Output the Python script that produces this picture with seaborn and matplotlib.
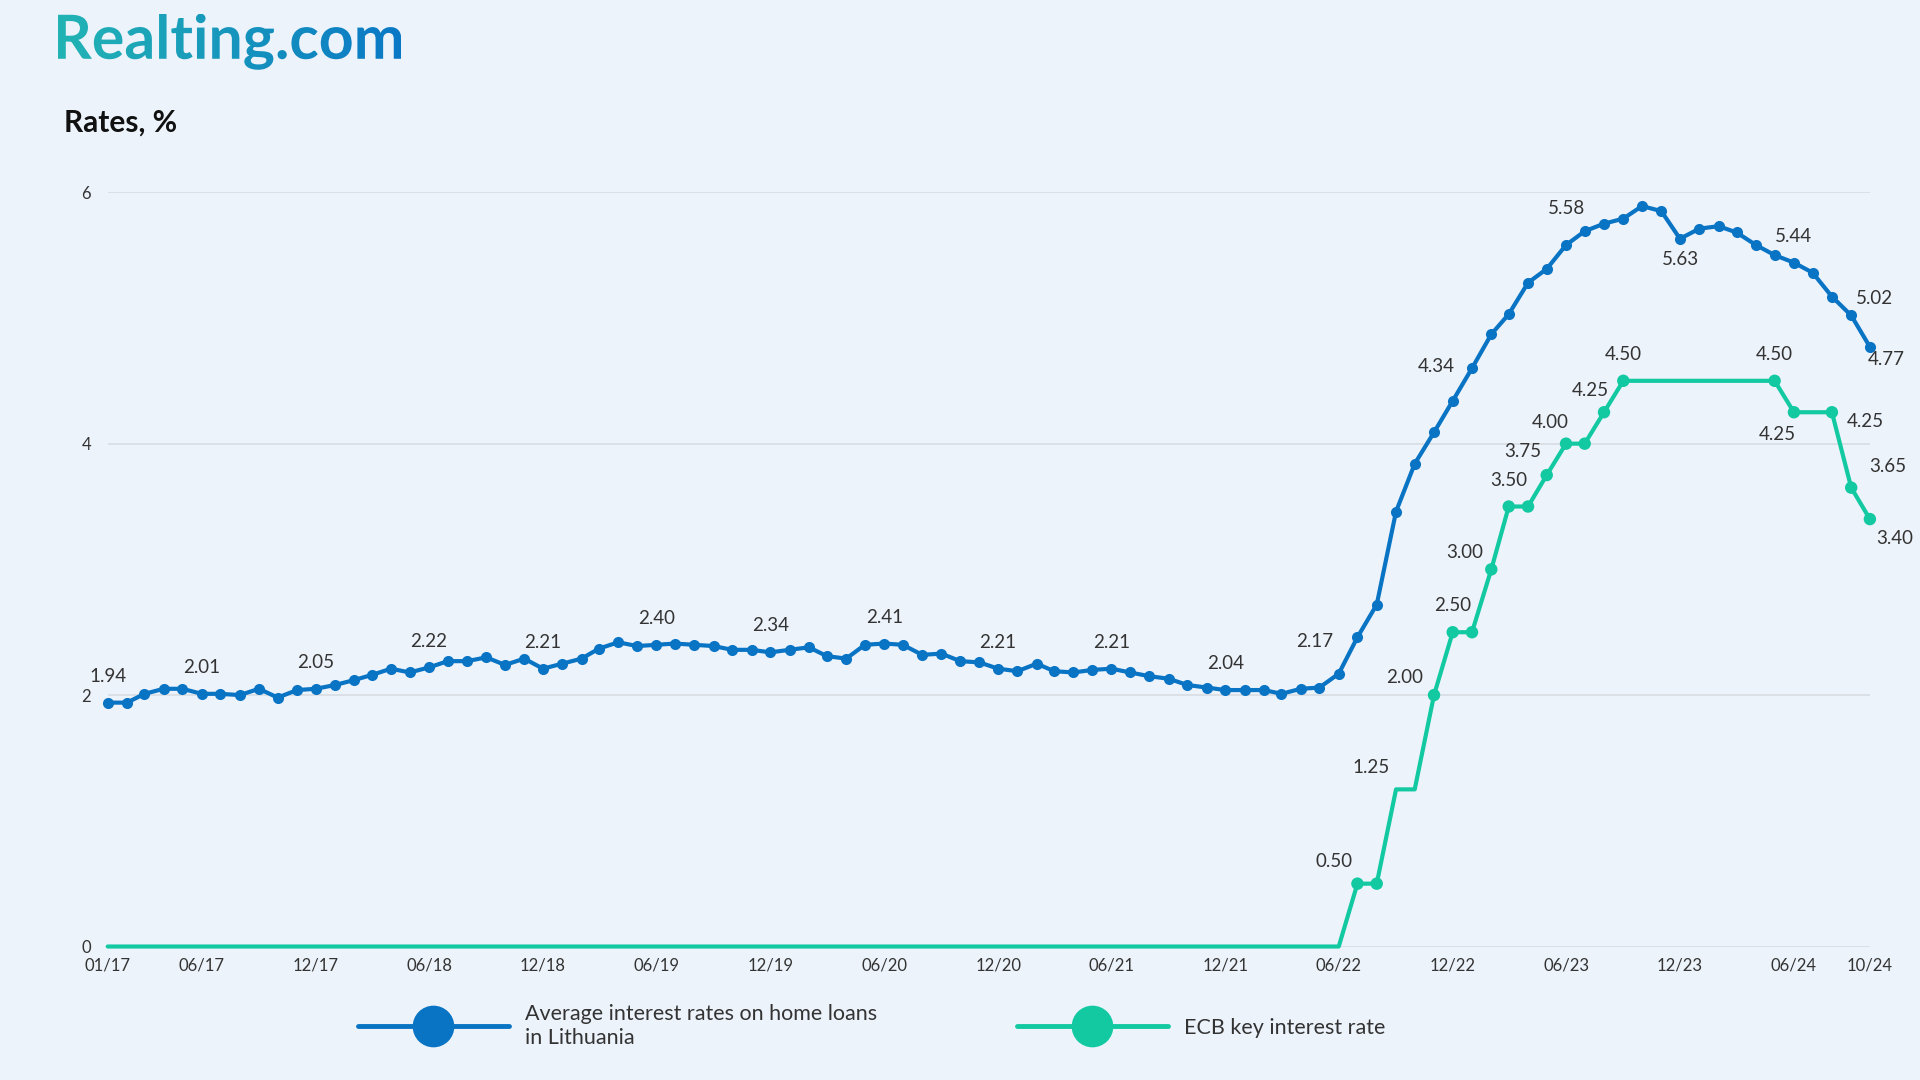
import numpy as np
import pandas as pd
import matplotlib
matplotlib.use("Agg")
import matplotlib.pyplot as plt
import matplotlib.colors as mcolors
from matplotlib.lines import Line2D
from matplotlib.textpath import TextPath
from matplotlib.font_manager import FontProperties
from matplotlib.patches import PathPatch
import seaborn as sns

# monthly data, 01/17 .. 10/24
start_month = "2017-01-01"
end_month = "2024-10-01"

home_loan_rates = [
    1.94, 1.94, 2.01, 2.05, 2.05, 2.01, 2.01, 2.00, 2.05, 1.98, 2.04, 2.05,  # 2017
    2.08, 2.12, 2.16, 2.21, 2.18, 2.22, 2.27, 2.27, 2.30, 2.24, 2.29, 2.21,  # 2018
    2.25, 2.29, 2.37, 2.42, 2.39, 2.40, 2.41, 2.40, 2.39, 2.36, 2.36, 2.34,  # 2019
    2.36, 2.38, 2.31, 2.29, 2.40, 2.41, 2.40, 2.32, 2.33, 2.27, 2.26, 2.21,  # 2020
    2.19, 2.25, 2.19, 2.18, 2.20, 2.21, 2.18, 2.15, 2.13, 2.08, 2.06, 2.04,  # 2021
    2.04, 2.04, 2.01, 2.05, 2.06, 2.17, 2.46, 2.72, 3.46, 3.84, 4.09, 4.34,  # 2022
    4.60, 4.87, 5.03, 5.28, 5.39, 5.58, 5.69, 5.75, 5.79, 5.89, 5.85, 5.63,  # 2023
    5.71, 5.73, 5.68, 5.58, 5.50, 5.44, 5.36, 5.17, 5.02, 4.77,              # 2024
]

ecb_rates = [
    0.00, 0.00, 0.00, 0.00, 0.00, 0.00, 0.00, 0.00, 0.00, 0.00, 0.00, 0.00,  # 2017
    0.00, 0.00, 0.00, 0.00, 0.00, 0.00, 0.00, 0.00, 0.00, 0.00, 0.00, 0.00,  # 2018
    0.00, 0.00, 0.00, 0.00, 0.00, 0.00, 0.00, 0.00, 0.00, 0.00, 0.00, 0.00,  # 2019
    0.00, 0.00, 0.00, 0.00, 0.00, 0.00, 0.00, 0.00, 0.00, 0.00, 0.00, 0.00,  # 2020
    0.00, 0.00, 0.00, 0.00, 0.00, 0.00, 0.00, 0.00, 0.00, 0.00, 0.00, 0.00,  # 2021
    0.00, 0.00, 0.00, 0.00, 0.00, 0.00, 0.50, 0.50, 1.25, 1.25, 2.00, 2.50,  # 2022
    2.50, 3.00, 3.50, 3.50, 3.75, 4.00, 4.00, 4.25, 4.50, 4.50, 4.50, 4.50,  # 2023
    4.50, 4.50, 4.50, 4.50, 4.50, 4.25, 4.25, 4.25, 3.65, 3.40,              # 2024
]

tick_labels = ["01/17", "06/17", "12/17", "06/18", "12/18", "06/19", "12/19", "06/20",
               "12/20", "06/21", "12/21", "06/22", "12/22", "06/23", "12/23", "06/24", "10/24"]

loan_labelled = ["01/17", "06/17", "12/17", "06/18", "12/18", "06/19", "12/19", "06/20",
                 "12/20", "06/21", "12/21", "06/22", "12/22", "06/23", "12/23", "06/24",
                 "09/24", "10/24"]
ecb_labelled = ["07/22", "09/22", "11/22", "12/22", "02/23", "03/23", "05/23", "06/23",
                "08/23", "09/23", "05/24", "06/24", "08/24", "09/24", "10/24"]
ecb_marked = ["07/22", "08/22", "11/22", "12/22", "01/23", "02/23", "03/23", "04/23",
              "05/23", "06/23", "07/23", "08/23", "09/23", "05/24", "06/24", "08/24",
              "09/24", "10/24"]

loan_name = "Average interest rates on home loans\nin Lithuania"
ecb_name = "ECB key interest rate"

# label offsets in points (default: centred above the point)
loan_offsets = {"06/22": (-17, 23), "12/22": (-12, 25), "06/23": (0, 26), "12/23": (0, -15),
                "09/24": (17, 12), "10/24": (12, -9)}
ecb_offsets = {"07/22": (-17, 16), "09/22": (-18, 16), "11/22": (-21, 13), "02/23": (-19, 12),
               "05/23": (-17, 17), "06/23": (-11, 15), "08/23": (-10, 16), "06/24": (-12, -16),
               "08/24": (24, -7), "09/24": (26, 15), "10/24": (18, -14)}

BG = "#edf3fb"
BLUE = "#0a74c4"
GREEN = "#12c9a2"
GRID = "#d8dce2"
TXT = "#333333"

df = pd.DataFrame({
    "month": pd.date_range(start_month, end_month, freq="MS"),
    "loan": home_loan_rates,
    "ecb": ecb_rates,
})
df["key"] = df["month"].dt.strftime("%m/%y")

sns.set_theme(style="white", rc={"axes.facecolor": BG, "figure.facecolor": BG})
plt.rcParams["font.family"] = ["Lato", "DejaVu Sans"]

fig = plt.figure(figsize=(19.2, 10.8), dpi=100)
ax = fig.add_axes([0.0561, 0.1236, 0.9178, 0.6984])

sns.lineplot(data=df, x="month", y="ecb", color=GREEN, lw=3, ax=ax, clip_on=False, zorder=3)
sns.scatterplot(data=df[df["key"].isin(ecb_marked)], x="month", y="ecb", color=GREEN,
                s=80, edgecolor="none", ax=ax, clip_on=False, zorder=3)
sns.lineplot(data=df, x="month", y="loan", color=BLUE, lw=3, marker="o", markersize=8,
             markeredgewidth=0, ax=ax, clip_on=False, zorder=4)

for key in loan_labelled:
    row = df[df["key"] == key].iloc[0]
    ax.annotate(f"{row['loan']:.2f}", (row["month"], row["loan"]),
                xytext=loan_offsets.get(key, (0, 19)), textcoords="offset points",
                ha="center", va="center", fontsize=13.5, color=TXT, zorder=6,
                annotation_clip=False)
for key in ecb_labelled:
    row = df[df["key"] == key].iloc[0]
    ax.annotate(f"{row['ecb']:.2f}", (row["month"], row["ecb"]),
                xytext=ecb_offsets.get(key, (0, 19)), textcoords="offset points",
                ha="center", va="center", fontsize=13.5, color=TXT, zorder=6,
                annotation_clip=False)

ax.set_xlim(df["month"].iloc[0], df["month"].iloc[-1])
ax.set_ylim(0, 6)
ax.set_yticks([0, 2, 4, 6])
ax.set_yticklabels(["0", "2", "4", "6"])
ax.set_xticks(pd.to_datetime(tick_labels, format="%m/%y"))
ax.set_xticklabels(tick_labels)
ax.grid(axis="y", color=GRID, lw=1.2)
ax.set_axisbelow(True)
ax.set_xlabel("")
ax.set_ylabel("")
for s in ax.spines.values():
    s.set_visible(False)
ax.tick_params(axis="both", length=0, labelsize=12, colors=TXT)
ax.tick_params(axis="y", pad=12)
ax.tick_params(axis="x", pad=8)

fig.text(0.0332, 0.8866, "Rates, %", fontsize=21.5, fontweight="bold", va="center", color="#111111")

# logo with a teal -> blue gradient
logo_path = TextPath((0, 0), "Realting.com", size=1, prop=FontProperties(family="Lato", weight="bold"))
ext = logo_path.get_extents()
logo_w = 0.179
logo_h = logo_w * (ext.height / ext.width) * (19.2 / 10.8)
logo_ax = fig.add_axes([0.030, 0.9354, logo_w, logo_h])
logo_ax.set_xlim(ext.x0, ext.x1)
logo_ax.set_ylim(ext.y0, ext.y1)
logo_ax.axis("off")
cmap = mcolors.LinearSegmentedColormap.from_list("logo", ["#22b4b4", "#0a78c6"])
im = logo_ax.imshow(np.linspace(0, 1, 256).reshape(1, -1), cmap=cmap,
                    extent=[ext.x0, ext.x1, ext.y0, ext.y1], aspect="auto")
patch = PathPatch(logo_path, transform=logo_ax.transData, facecolor="none", edgecolor="none")
logo_ax.add_patch(patch)
im.set_clip_path(patch)

handles = [
    Line2D([], [], color=BLUE, lw=3.5, marker="o", markersize=30, markeredgewidth=0),
    Line2D([], [], color=GREEN, lw=3.5, marker="o", markersize=30, markeredgewidth=0),
]
fig.legend(handles, [loan_name, ecb_name], loc="center", bbox_to_anchor=(0.454, 0.050),
           ncol=2, frameon=False, fontsize=15.5, handlelength=7, handletextpad=0.75,
           columnspacing=6.5, labelcolor=TXT)

fig.savefig("out.png", dpi=100, facecolor=BG)
